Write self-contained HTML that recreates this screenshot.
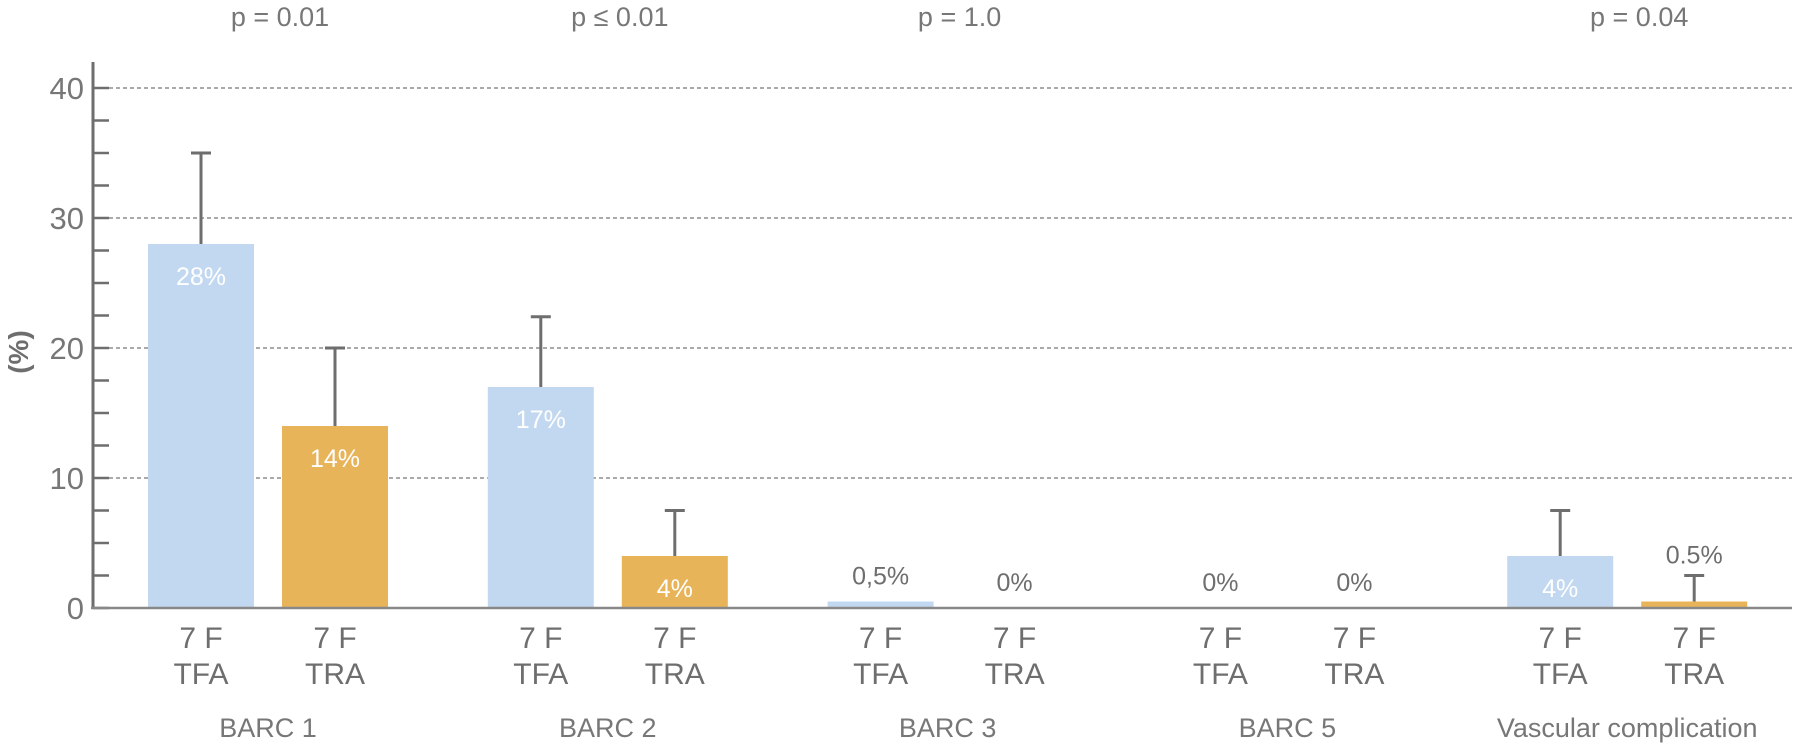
<!DOCTYPE html>
<html><head><meta charset="utf-8"><style>
html,body{margin:0;padding:0;background:#fff;}
svg{display:block;font-family:"Liberation Sans",sans-serif;}
</style></head><body>
<svg id="chart" width="1793" height="746" viewBox="0 0 1793 746"></svg>
<script>
const groups=["BARC 1","BARC 2","BARC 3","BARC 5","Vascular complication"];
const pLabels=["p = 0.01","p \u2264 0.01","p = 1.0","","p = 0.04"];
const tfaValues=[28,17,0.5,0,4];
const traValues=[14,4,0,0,0.5];
const tfaErr=[35,22.4,null,null,7.5];
const traErr=[20,7.5,null,null,2.5];
const tfaText=["28%","17%","0,5%","0%","4%"];
const traText=["14%","4%","0%","0%","0.5%"];
const yTicks=[0,10,20,30,40];

const svg=document.getElementById('chart');
const NS="http://www.w3.org/2000/svg";
const gray="#6e6e6e";
const y0=608, pxPerUnit=13, axisX=93;
const y=v=>y0-v*pxPerUnit;
const groupX=i=>148+i*339.8;
const barW=106, pairOff=134;
function el(t,a,txt){const e=document.createElementNS(NS,t);for(const k in a)e.setAttribute(k,a[k]);if(txt!==undefined)e.textContent=txt;svg.appendChild(e);return e;}

// grid and ticks
for(let v=0;v<=40;v+=2.5){
  const t=el('line',{x1:axisX,x2:axisX+16,y1:y(v),y2:y(v),stroke:gray,'stroke-width':2.5});
  
  
}
yTicks.forEach(v=>{
  if(v>0){const g=el('line',{x1:axisX+16,x2:1792,y1:y(v),y2:y(v),stroke:'#777','stroke-width':1.2,'stroke-dasharray':'4,3'});
  
  }
  const l=el('text',{x:84,y:y(v)+11,'text-anchor':'end','font-size':31,fill:'#777'},v);
  
  
});
const yt=el('text',{x:0,y:0,transform:'translate(28,352) rotate(-90)','text-anchor':'middle','font-size':28,'font-weight':'bold',fill:gray},'(%)');



function bar(x,v,err,txt,color,name){
  const h=v*pxPerUnit;
  const r=el('rect',{x:x,y:y0-h,width:barW,height:h,fill:color});
  
  
  const cx=x+barW/2;
  if(err!==null){
    const e=el('line',{x1:cx,x2:cx,y1:y(err),y2:y(v),stroke:gray,'stroke-width':3});
    
    
    const c=el('line',{x1:cx-10,x2:cx+10,y1:y(err),y2:y(err),stroke:gray,'stroke-width':3});
    
    
  }
  const inside=v>=3;
  const ty=inside?y(v)+41:(err!==null?y(err)-12:y(v)-17);
  const t=el('text',{x:cx,y:ty,'text-anchor':'middle','font-size':25,fill:inside?'#fff':gray},txt);
  
  
  [['7 F',648],[name.includes('tfa')?'TFA':'TRA',684]].forEach(([s,yy])=>{
    const a=el('text',{x:cx,y:yy,'text-anchor':'middle','font-size':30,fill:gray},s);
    
    
  });
}
groups.forEach((g,i)=>{
  const x=groupX(i);
  bar(x,tfaValues[i],tfaErr[i],tfaText[i],'#c2d8f0','bar-tfa');
  bar(x+pairOff,traValues[i],traErr[i],traText[i],'#e8b45a','bar-tra');
  const gl=el('text',{x:x+(pairOff+barW)/2,y:737,'text-anchor':'middle','font-size':27,fill:'#777'},g);
  
  
  if(pLabels[i]){
    const p=el('text',{x:x+(pairOff+barW)/2+12,y:26,'text-anchor':'middle','font-size':27,fill:'#777'},pLabels[i]);
    
    
  }
});
// axes
const ya=el('line',{x1:axisX,x2:axisX,y1:62,y2:y0+1,stroke:gray,'stroke-width':3});


const xa=el('line',{x1:axisX-2,x2:1792,y1:y0,y2:y0,stroke:'#888','stroke-width':2.5});


</script>
</body></html>
